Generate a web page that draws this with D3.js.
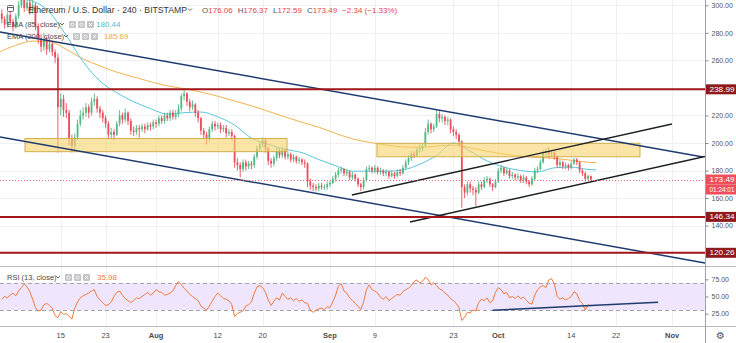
<!DOCTYPE html>
<html><head><meta charset="utf-8">
<script src="https://cdn.jsdelivr.net/npm/d3@7"></script>
<style>
html,body{margin:0;padding:0;background:#fff;}
svg{display:block;font-family:"Liberation Sans",Arial,sans-serif;}
</style></head>
<body><svg id="c" width="736" height="343"></svg>
<script>
// ETH/USD, 12h candles starting 2019-07-04 12:00 UTC
const candleStart = "2019-07-04T12:00Z";
const candleStepHours = 12;
const firstOpen = 294;
const closes = [
 290,286,293,288,284,292,300,306,298,302, 296,300,285,276,270,275,268,272,266,262,
 226,232,224,222,203,198,204,214,220,222, 226,222,230,232,225,222,218,214,206,208,
 206,214,220,217,222,216,209,208,211,210, 212,210,213,212,215,214,218,216,220,218,
 222,219,221,225,234,236,230,226,228,222, 218,209,206,203,210,214,212,213,210,211,
 207,208,205,186,184,181,186,183,185,184, 190,196,199,202,196,187,185,189,194,191,
 195,190,192,188,190,187,188,186,185,172, 169,168,167,169,168,168,170,171,174,177,
 180,181,178,179,175,177,174,170,168,173, 181,182,180,182,179,180,178,179,176,178,
 176,179,178,182,186,189,192,191,195,196, 198,208,214,210,212,221,218,219,216,217,
 210,208,206,201,168,164,170,167,166,164, 170,168,173,174,170,168,172,180,182,178,
 180,176,177,175,176,173,175,172,170,174, 180,181,186,193,194,192,193,190,184,186,
 183,184,182,185,188,186,180,178,174,176.06, 173.49];
const highs = [
 297,292,295,296,290,294,303,314,309,306, 304,304,302,287,279,280,277,276,274,268,
 265,236,235,229,224,206,207,217,224,226, 229,228,233,236,234,227,224,220,216,211,
 210,216,224,222,225,223,218,212,213,213, 214,214,215,215,217,217,220,220,222,222,
 224,224,224,228,236,239,237,232,231,229, 224,219,211,208,212,216,216,215,215,213,
 213,210,210,206,189,186,188,188,187,187, 192,198,201,204,203,197,189,191,197,196,
 197,196,194,193,192,191,190,189,188,186, 174,171,170,171,171,170,172,173,176,179,
 182,183,182,181,180,179,178,175,171,175, 183,184,183,184,183,182,181,181,180,180,
 179,181,181,184,188,191,194,194,197,199, 200,211,217,215,214,224,223,221,220,219,
 218,212,210,207,202,170,172,172,169,168, 172,172,175,176,175,171,174,182,184,183,
 182,181,179,178,178,177,177,176,173,176, 182,183,188,195,196,197,195,194,191,188,
 187,186,185,187,189,189,187,181,179,177, 176.37];
const lows = [
 287,283,284,286,281,283,290,298,295,296, 293,294,282,272,266,267,264,266,263,258,
 193,220,219,218,198,193,195,202,212,217, 219,218,220,227,222,218,215,211,203,203,
 202,205,212,214,215,213,206,205,206,204, 208,207,209,209,210,211,212,214,214,216,
 216,217,217,219,223,231,227,223,224,219, 215,206,203,199,201,208,209,210,207,208,
 204,205,202,182,180,175,179,180,181,181, 182,188,194,197,193,184,182,183,187,189,
 189,188,188,186,186,185,185,184,182,168, 166,165,165,165,166,166,166,168,170,172,
 175,178,176,176,173,173,172,168,165,166, 172,179,178,178,177,177,176,176,174,175,
 174,175,176,177,181,184,187,189,190,193, 194,197,206,207,208,211,215,215,213,213,
 207,205,203,198,153,160,162,164,162,154, 163,166,167,171,168,165,167,171,178,176,
 177,174,174,173,173,171,171,170,168,169, 173,178,180,185,191,189,190,188,182,182,
 181,181,180,181,184,184,178,176,172,173, 172.59];
// RSI (13, close), same timestamps as the candles
const rsi = [
 46,50,48,52,55,51,58,63,68,64, 57,46,34,29,30,38,40,37,33,22,
 19,28,24,25,21,17,33,42,48,51, 53,55,58,60,50,45,41,37,38,42,
 50,56,58,52,47,44,41,44,48,47, 50,53,56,52,55,60,57,56,52,53,
 55,58,66,72,67,62,58,53,50,47, 44,36,33,30,36,43,50,55,51,47,
 46,44,38,21,25,27,29,36,38,42, 55,64,66,63,56,45,37,43,48,45,
 55,50,46,48,44,47,43,45,41,40, 30,27,30,32,33,31,35,34,42,52,
 65,69,58,55,48,44,40,36,31,42, 60,67,60,58,55,49,46,50,44,47,
 50,53,52,57,60,62,66,72,74,70, 72,78,75,67,70,66,61,59,55,52,
 47,44,40,34,15,20,27,26,30,29, 41,46,44,48,41,44,56,63,60,54,
 56,48,50,47,51,47,49,45,40,39, 52,60,64,66,63,74,76,68,50,46,
 48,45,47,50,57,54,44,40,30,38, 35.98];
// Moving averages, sampled every 3 days
const emaDates = ["2019-07-04","2019-07-07","2019-07-10","2019-07-13","2019-07-16","2019-07-19","2019-07-22","2019-07-25","2019-07-28","2019-07-31",
 "2019-08-03","2019-08-06","2019-08-09","2019-08-12","2019-08-15","2019-08-18","2019-08-21","2019-08-24","2019-08-27","2019-08-30",
 "2019-09-02","2019-09-05","2019-09-08","2019-09-11","2019-09-14","2019-09-17","2019-09-20","2019-09-23","2019-09-26","2019-09-29",
 "2019-10-02","2019-10-05","2019-10-08","2019-10-11","2019-10-14","2019-10-17","2019-10-18T12:00Z"];
const ema85 = [306,305,303,295,278,259,245,236.5,230,225, 221,222,222.5,219,213,203.5,199,195.5,193,188,
 183.5,179.5,179.5,179.5,180.5,184.5,191,200,194,187, 182.5,180,179,182,182.5,180.8,180.44];
const ema200 = [266,271,274,273.5,268,261,256,251.5,248,244.5, 241.5,239.5,237,234,230.5,227,223,219,215,211.5,
 207,203,200.5,198.5,197.2,196.8,197.8,198.3,196.5,194, 192,190.5,189.5,188.8,187.5,186,185.69];
// Drawings
const channelUpper = [["2019-07-04T04:20Z",280.6],["2019-11-06T12:00Z",189.8]];
const channelLower = [["2019-07-04T04:20Z",204.4],["2019-11-06T20:24Z",112.9]];
const risingUpper = [["2019-09-04T21:30Z",162.2],["2019-10-31T23:00Z",213.8]];
const risingLower = [["2019-09-15T06:00Z",142.6],["2019-11-06T20:24Z",190.2]];
const rsiTrend = [["2019-09-30T00:00Z",29.9],["2019-10-29T12:00Z",41.8]];
const levels = [238.99, 146.34, 120.26];
const zones = [["2019-07-08T15:20Z","2019-08-24T08:10Z",203.3,193.7],["2019-09-09T09:00Z","2019-10-26T06:15Z",199.8,190.0]];
// Axes
const tickDates = ["2019-07-15","2019-07-23","2019-08-01","2019-08-12","2019-08-20","2019-09-01","2019-09-09","2019-09-23","2019-10-01","2019-10-14","2019-10-22","2019-11-01"];
const tickLabels = ["15","23","Aug","12","20","Sep","9","23","Oct","14","22","Nov"];
const priceTicks = [120,140,160,180,200,220,240,260,280,300];
const rsiTicks = [25,50,75];
const lastPrice = 173.49, countdown = "01:24:01";
const ohlc = [["O","176.06"],["H","176.37"],["L","172.59"],["C","173.49"]];
const change = "\u22122.34 (\u22121.33%)";

const svg = d3.select("#c");
const W = 736, H = 343, PR = 705, PB = 266, RT = 267, RB = 326;
const D = s => new Date(s);

const x = d3.scaleUtc().domain([D("2019-07-04T04:20Z"), D("2019-11-06T20:24Z")]).range([0, PR]);
const y = d3.scaleLinear().domain([110.68, 303.85]).range([PB, 0]);
const yr = d3.scaleLinear().domain([7, 93]).range([RB, RT]);

const defs = svg.append("defs");
defs.append("clipPath").attr("id","pc").append("rect").attr("x",0).attr("y",0).attr("width",PR).attr("height",PB);
defs.append("clipPath").attr("id","rc").append("rect").attr("x",0).attr("y",RT).attr("width",PR).attr("height",RB-RT);

const grid = svg.append("g");
tickDates.forEach(d => {
  const gx = Math.round(x(D(d))) + 0.5;
  grid.append("line").attr("x1",gx).attr("x2",gx).attr("y1",0).attr("y2",RB).attr("stroke","#eef0f4");
});
priceTicks.forEach(p => {
  const gy = Math.round(y(p)) + 0.5;
  grid.append("line").attr("x1",0).attr("x2",PR).attr("y1",gy).attr("y2",gy).attr("stroke","#eef0f4");
});

// price pane
const pp = svg.append("g").attr("clip-path","url(#pc)");
const t0 = D(candleStart);
const candles = closes.map((c,i) => ({
  date: d3.utcHour.offset(t0, candleStepHours*i),
  o: i === 0 ? firstOpen : closes[i-1], h: highs[i], l: lows[i], c
}));
const emaPts = a => emaDates.map((d,i) => [D(d), a[i]]);
const emaLine = d3.line().x(d => x(d[0])).y(d => y(d[1])).curve(d3.curveMonotoneX);
pp.append("path").attr("d", emaLine(emaPts(ema200))).attr("fill","none").attr("stroke","#f2b24a").attr("stroke-width",1);
pp.append("path").attr("d", emaLine(emaPts(ema85))).attr("fill","none").attr("stroke","#5cc6da").attr("stroke-width",1);

const up = "#53b987", dn = "#eb4d5c";
const cg = pp.append("g");
cg.selectAll("line").data(candles).join("line")
  .attr("x1", d => x(d.date)).attr("x2", d => x(d.date))
  .attr("y1", d => y(d.h)).attr("y2", d => y(d.l))
  .attr("stroke", d => d.c >= d.o ? up : dn).attr("stroke-width", 0.9);
cg.selectAll("rect").data(candles).join("rect")
  .attr("x", d => x(d.date) - 0.9).attr("width", 1.8)
  .attr("y", d => y(Math.max(d.o,d.c)))
  .attr("height", d => Math.max(1, Math.abs(y(d.o) - y(d.c))))
  .attr("fill", d => d.c >= d.o ? up : dn);

zones.forEach(z => {
  pp.append("rect").attr("x", x(D(z[0]))).attr("width", x(D(z[1])) - x(D(z[0])))
    .attr("y", y(z[2])).attr("height", y(z[3]) - y(z[2]))
    .attr("fill","#f6d46a").attr("fill-opacity",0.6).attr("stroke","#cfae4c").attr("stroke-width",1);
});

const seg = (pts, sc) => d3.line().x(d => x(D(d[0]))).y(d => sc(d[1]))(pts);
pp.append("path").attr("d", seg(channelUpper, y)).attr("stroke","#1f3b6e").attr("stroke-width",1.5).attr("fill","none");
pp.append("path").attr("d", seg(channelLower, y)).attr("stroke","#1f3b6e").attr("stroke-width",1.5).attr("fill","none");
pp.append("path").attr("d", seg(risingUpper, y)).attr("stroke","#1c1f24").attr("stroke-width",1.4).attr("fill","none");
pp.append("path").attr("d", seg(risingLower, y)).attr("stroke","#1c1f24").attr("stroke-width",1.4).attr("fill","none");

levels.forEach(v => {
  pp.append("line").attr("x1",0).attr("x2",PR).attr("y1",y(v)).attr("y2",y(v))
    .attr("stroke","#a3171b").attr("stroke-width",2);
});
pp.append("line").attr("x1",0).attr("x2",PR).attr("y1",Math.round(y(lastPrice))+0.5).attr("y2",Math.round(y(lastPrice))+0.5)
  .attr("stroke","#f0646e").attr("stroke-width",1).attr("stroke-dasharray","1,2");

// RSI pane
const rp = svg.append("g").attr("clip-path","url(#rc)");
rp.append("rect").attr("x",0).attr("width",PR).attr("y",yr(70)).attr("height",yr(30)-yr(70)).attr("fill","#efe5fc");
[70,30].forEach(v => rp.append("line").attr("x1",0).attr("x2",PR).attr("y1",Math.round(yr(v))+0.5).attr("y2",Math.round(yr(v))+0.5)
  .attr("stroke","#a3a3a8").attr("stroke-dasharray","4,3"));
rp.append("path").attr("d", d3.line().x((d,i) => x(candles[i].date)).y(d => yr(d))(rsi))
  .attr("fill","none").attr("stroke","#f07b3f").attr("stroke-width",1);
rp.append("path").attr("d", seg(rsiTrend, yr)).attr("stroke","#1f3b6e").attr("stroke-width",1.5).attr("fill","none");

// frame
svg.append("line").attr("x1",0).attr("x2",W).attr("y1",RT-0.5).attr("y2",RT-0.5).attr("stroke","#b8bbc2");
svg.append("line").attr("x1",0).attr("x2",W).attr("y1",RB+0.5).attr("y2",RB+0.5).attr("stroke","#b8bbc2");
svg.append("line").attr("x1",PR+0.5).attr("x2",PR+0.5).attr("y1",0).attr("y2",H).attr("stroke","#9ea1a8");

// right axes; tick labels hidden where a level tag sits on top of them
const axisStyle = g => {
  g.select(".domain").remove();
  g.selectAll(".tick line").attr("stroke","#888");
  g.selectAll(".tick text").attr("fill","#555").attr("font-size",7).attr("font-family","Liberation Sans, Arial, sans-serif");
};
const shownTicks = priceTicks.filter(p => !levels.some(v => Math.abs(y(v) - y(p)) < 8));
svg.append("g").attr("transform",`translate(${PR+0.5},0)`)
  .call(d3.axisRight(y).tickValues(shownTicks).tickFormat(d3.format(".2f")).tickSize(3).tickPadding(3)).call(axisStyle);
svg.append("g").attr("transform",`translate(${PR+0.5},0)`)
  .call(d3.axisRight(yr).tickValues(rsiTicks).tickFormat(d3.format(".2f")).tickSize(3).tickPadding(3)).call(axisStyle);

// value tags on the price scale, centred at pixel row cy
const tag = (cy, text, fill) => {
  svg.append("rect").attr("x",PR+1).attr("y",cy-5).attr("width",W-PR-1).attr("height",10).attr("fill",fill);
  svg.append("text").attr("x",PR+4.5).attr("y",cy+2.6).attr("fill","#fff").attr("font-size",7)
    .attr("textLength",25).attr("lengthAdjust","spacingAndGlyphs").text(text);
};
levels.forEach(v => tag(y(v), v.toFixed(2), "#8f1a1d"));
tag(y(lastPrice), lastPrice.toFixed(2), "#ef4f5a");
tag(y(lastPrice) + 10, countdown, "#ef4f5a");

// time axis
tickDates.forEach((d,i) => {
  const month = isNaN(+tickLabels[i]);
  svg.append("text").attr("x", x(D(d))).attr("y", 338).attr("text-anchor","middle")
    .attr("font-size",7.5).attr("font-weight", month ? "bold" : "normal").attr("fill","#4a4a4a").text(tickLabels[i]);
});
svg.append("text").attr("x",720.5).attr("y",339).attr("text-anchor","middle").attr("font-size",10)
  .attr("font-family","DejaVu Sans").attr("fill","#555").text("\u2699");

// legends
const chevron = (cx, cy) => svg.append("path").attr("d",`M${cx-2},${cy-1}L${cx},${cy+1}L${cx+2},${cy-1}`)
  .attr("fill","none").attr("stroke","#555").attr("stroke-width",0.9);
const icons = (ix, iy) => {
  for (let k = 0; k < 3; k++) {
    svg.append("rect").attr("x",ix+k*9).attr("y",iy).attr("width",7).attr("height",7).attr("rx",1).attr("fill","#c4c4c6");
    if (k === 2) svg.append("path").attr("d",`M${ix+20},${iy+2}l3,3m0,-3l-3,3`).attr("stroke","#fff").attr("stroke-width",0.9);
    else svg.append("circle").attr("cx",ix+k*9+3.5).attr("cy",iy+3.5).attr("r",1.6).attr("fill","none").attr("stroke","#fff").attr("stroke-width",0.8);
  }
};
svg.append("rect").attr("x",7.5).attr("y",5.5).attr("width",6).attr("height",6).attr("rx",1).attr("fill","none").attr("stroke","#666");
svg.append("line").attr("x1",7.5).attr("x2",13.5).attr("y1",7.5).attr("y2",7.5).attr("stroke","#666");
svg.append("text").attr("x",28).attr("y",12.5).attr("font-size",9.5).attr("fill","#333")
  .attr("textLength",159).attr("lengthAdjust","spacingAndGlyphs").text("Ethereum / U.S. Dollar \u00b7 240 \u00b7 BITSTAMP");
chevron(190, 9.5);
let ox = 202;
ohlc.forEach(([k,v]) => {
  const t = svg.append("text").attr("x",ox).attr("y",12.5).attr("font-size",8);
  t.append("tspan").attr("fill","#555").text(k);
  t.append("tspan").attr("fill","#e8434b").text(v);
  ox += t.node().getComputedTextLength() + 5;
});
svg.append("text").attr("x",ox).attr("y",12.5).attr("font-size",8).attr("fill","#e8434b").text(change);

svg.append("text").attr("x",7).attr("y",26.5).attr("font-size",7.5).attr("fill","#4a4a4a").text("EMA (85, close)");
chevron(62, 24); icons(69, 21);
svg.append("text").attr("x",96).attr("y",26.5).attr("font-size",8).attr("fill","#4cbfd3").text(ema85[ema85.length-1].toFixed(2));
svg.append("text").attr("x",7).attr("y",38.5).attr("font-size",7.5).attr("fill","#4a4a4a").text("EMA (200, close)");
chevron(66, 36); icons(73, 33);
svg.append("text").attr("x",104).attr("y",38.5).attr("font-size",8).attr("fill","#eeaa3c").text(ema200[ema200.length-1].toFixed(2));
svg.append("text").attr("x",7).attr("y",279.5).attr("font-size",7.5).attr("fill","#4a4a4a").text("RSI (13, close)");
chevron(58, 277); icons(65, 274);
svg.append("text").attr("x",97).attr("y",279.5).attr("font-size",8).attr("fill","#f07b3f").text(rsi[rsi.length-1].toFixed(2));
</script>
</body></html>
